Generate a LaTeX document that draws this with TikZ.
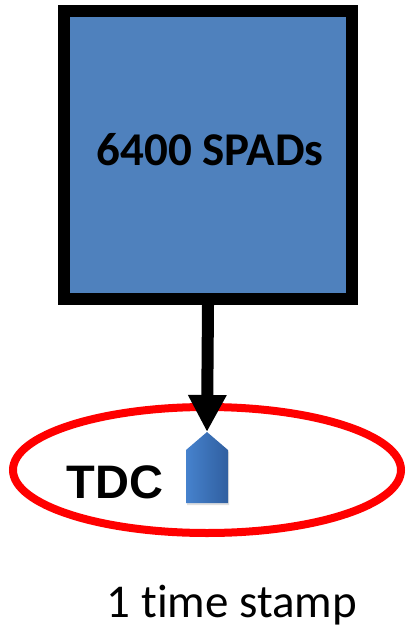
\documentclass[tikz,border=0pt]{standalone}
\usepackage{fontspec}
\setmainfont{Carlito}[Ligatures=NoCommon]
\newfontfamily\arialfont{Liberation Sans}
\usetikzlibrary{arrows.meta,shadows}
\definecolor{spadblue}{RGB}{79,129,189}
\definecolor{chiplight}{RGB}{70,130,205}
\definecolor{chipdark}{RGB}{48,95,160}

\begin{document}
\begin{tikzpicture}[x=1pt,y=-1pt]
				\tikzset{arraybox/.style={draw=black,line width=12pt,fill=spadblue}}
				\tikzset{tdcring/.style={draw=red,line width=8pt}}
				\tikzset{hitline/.style={line width=12pt,-{Triangle[width=36pt,length=37pt]}}}
				\tikzset{chip/.style={left color=chiplight,right color=chipdark,drop shadow={shadow xshift=1pt,shadow yshift=-2pt,opacity=0.25}}}
				\useasboundingbox (0,0) rectangle (407,628);
				\draw[arraybox] (64,11) rectangle (352,299);
				\node[font=\fontsize{47}{50}\selectfont\bfseries,inner sep=0] (spads) at (210,150) {6400 SPADs};
				\coordinate (boxbottom) at (208,305);
				\draw[tdcring] (207,470) ellipse [x radius=194,y radius=63];
				\coordinate (chiptip) at (207,432);
				\path[chip] (chiptip) -- (228,450) -- (228,503) -- (186,503) -- (186,450) -- cycle;
				\draw[hitline] (boxbottom) -- (chiptip);
				\node[font=\arialfont\bfseries\fontsize{47}{50}\selectfont,inner sep=0,anchor=base] (tdc) at (115,498) {TDC};
				\node[font=\fontsize{47}{50}\selectfont,inner sep=0,anchor=base] (stamp) at (232,617) {1 time stamp};
			\end{tikzpicture}
\end{document}
